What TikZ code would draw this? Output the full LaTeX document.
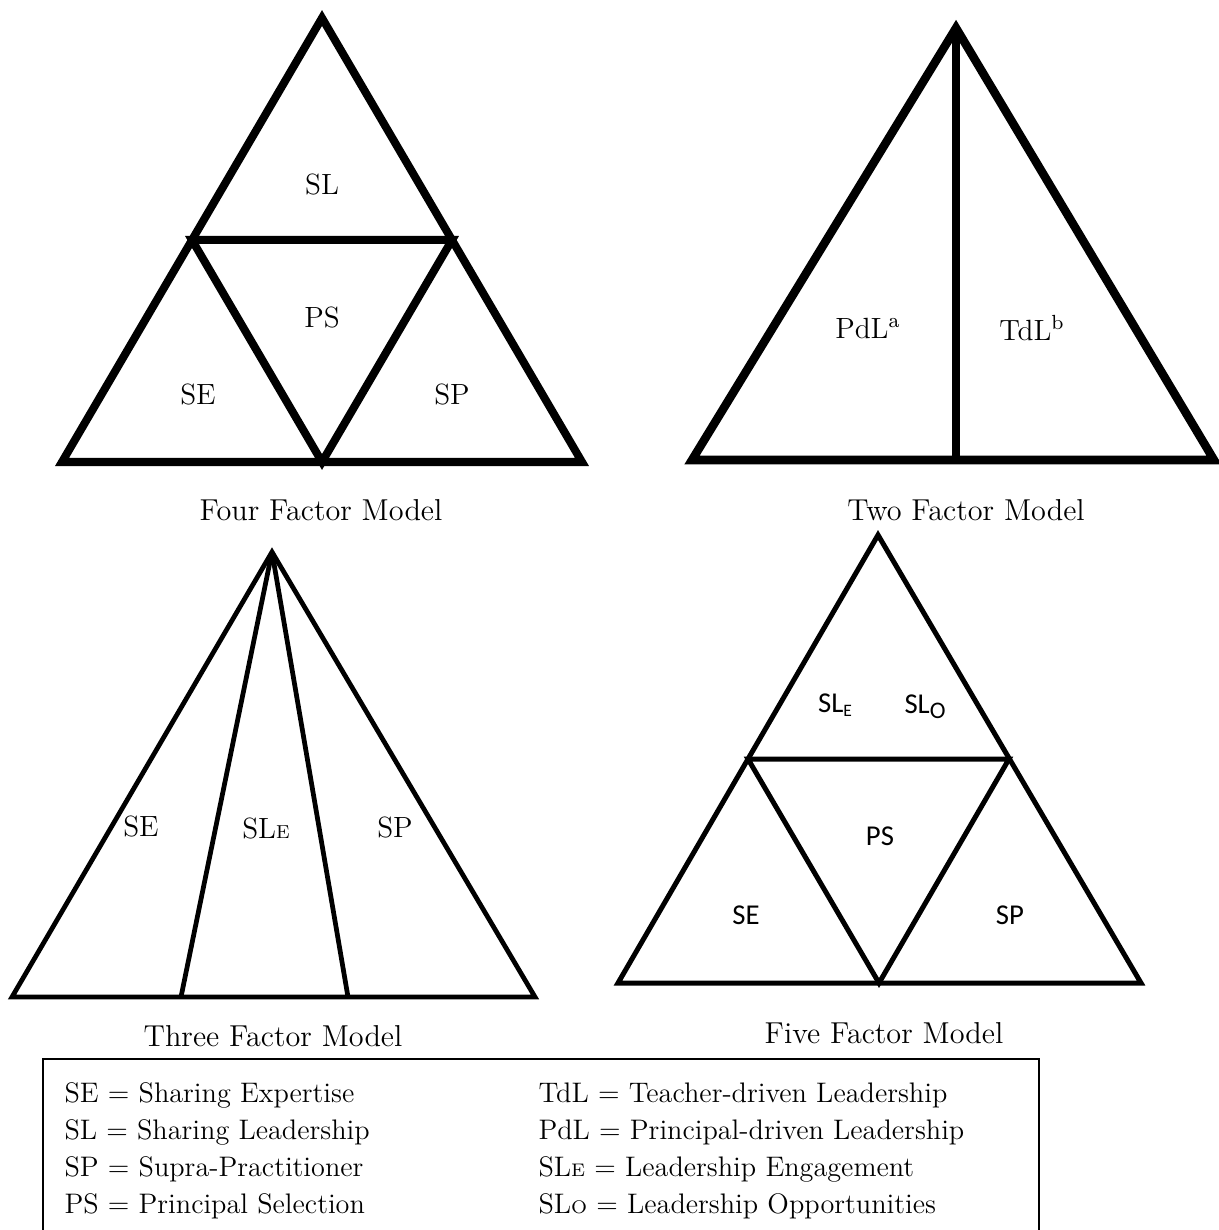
\documentclass[tikz,border=0pt]{standalone}
\usepackage{fontspec}
\newfontfamily\calibri{Carlito}
\usetikzlibrary{positioning}

\begin{document}
\begin{tikzpicture}[x=0.4pt, y=-0.4pt]
\tikzset{
  edge/.style={line width=3.2pt, line join=miter},
  thickedge/.style={line width=3.4pt, line join=miter},
  thinedge/.style={line width=1.9pt, line join=miter},
  midedge/.style={line width=2.0pt, line join=miter},
  lab/.style={font=\fontsize{11.7}{14}\selectfont, inner sep=1pt},
  slab/.style={font=\calibri\fontsize{11.5}{14}\selectfont, inner sep=1pt},
  caption/.style={font=\fontsize{12.1}{14}\selectfont, inner sep=1pt},
  key/.style={font=\fontsize{11.3}{13}\selectfont, anchor=west, inner sep=0pt},
  legendbox/.style={draw, line width=0.7pt}
}
\useasboundingbox (0,0) rectangle (1218,1230);
% ---- four factor model
\coordinate (fa) at (322,18);
\coordinate (fb) at (62,462);
\coordinate (fc) at (582,462);
\coordinate (fab) at (192,240);
\coordinate (fac) at (452,240);
\coordinate (fbc) at (322,462);
\draw[edge] (fa) -- (fb) -- (fc) -- cycle;
\draw[edge] (fab) -- (fac) -- (fbc) -- cycle;
\node[lab] (fsl) at (322,185) {SL};
\node[lab] (fps) at (322,318) {PS};
\node[lab] (fse) at (198,395) {SE};
\node[lab] (fsp) at (452,395) {SP};
\node[caption] (fcap) at (321,510) {Four Factor Model};
% ---- two factor model
\coordinate (ta) at (956,28);
\coordinate (tb) at (692,460);
\coordinate (tc) at (1214,460);
\coordinate (td) at (956,460);
\draw[thickedge] (ta) -- (tb) -- (tc) -- cycle;
\draw[thickedge] (ta) -- (td);
\node[lab] (tpdl) at (868,328) {PdL\textsuperscript{a}};
\node[lab] (ttdl) at (1032,328) {TdL\textsuperscript{b}};
\node[caption] (tcap) at (966,510) {Two Factor Model};
% ---- three factor model
\coordinate (ha) at (272,552);
\coordinate (hb) at (12,997);
\coordinate (hc) at (535,997);
\coordinate (hd) at (181,997);
\coordinate (he) at (348,997);
\draw[thinedge] (ha) -- (hb) -- (hc) -- cycle;
\draw[thinedge] (ha) -- (hd);
\draw[thinedge] (ha) -- (he);
\node[lab] (hse) at (141,827) {SE};
\node[lab] (hsle) at (266,829) {SL{\fontsize{7.5}{9}\selectfont E}};
\node[lab] (hsp) at (395,828) {SP};
\node[caption] (hcap) at (273,1036) {Three Factor Model};
% ---- five factor model
\coordinate (va) at (878,535);
\coordinate (vb) at (618,983);
\coordinate (vc) at (1141,983);
\coordinate (vab) at (748,759);
\coordinate (vac) at (1009,759);
\coordinate (vbc) at (879,983);
\draw[midedge] (va) -- (vb) -- (vc) -- cycle;
\draw[midedge] (vab) -- (vac) -- (vbc) -- cycle;
\node[slab] (vsle) at (835,705) {SL\raisebox{-0.3ex}{\fontsize{7}{9}\selectfont E}};
\node[slab] (vslo) at (925,707) {SL\raisebox{-0.35ex}{\fontsize{9.5}{10}\selectfont O}};
\node[slab] (vps) at (880,836) {PS};
\node[slab] (vse) at (746,915) {SE};
\node[slab] (vsp) at (1010,915) {SP};
\node[caption] (vcap) at (884,1033) {Five Factor Model};
% ---- legend
\draw[legendbox] (43,1059) rectangle (1039,1245);
\node[key] (kse)  at (64,1095)  {SE = Sharing Expertise};
\node[key] (ksl)  at (64,1132)  {SL = Sharing Leadership};
\node[key] (ksp)  at (64,1169)  {SP = Supra-Practitioner};
\node[key] (kps)  at (64,1206)  {PS = Principal Selection};
\node[key] (ktdl) at (538,1095) {TdL = Teacher-driven Leadership};
\node[key] (kpdl) at (538,1132) {PdL = Principal-driven Leadership};
\node[key] (ksle) at (538,1169) {SL{\fontsize{7.3}{8}\selectfont E} = Leadership Engagement};
\node[key] (kslo) at (538,1206) {SL{\fontsize{7.3}{8}\selectfont O} = Leadership Opportunities};
\end{tikzpicture}
\end{document}
